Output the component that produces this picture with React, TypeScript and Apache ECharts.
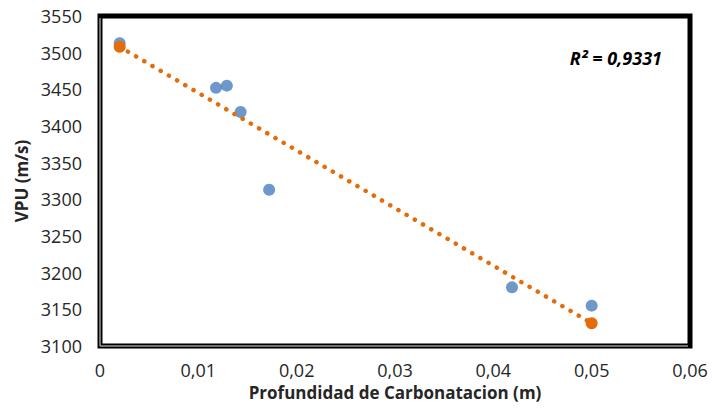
import React, { useEffect, useRef } from "react";
import * as echarts from "echarts";

const depthX: number[] = [0.002, 0.0118, 0.0129, 0.0143, 0.0172, 0.0419, 0.05];
const vpuY: number[] = [3513, 3452, 3455, 3419, 3313, 3180, 3155];
const trendX: number[] = [0.002, 0.05];
const trendY: number[] = [3508, 3131];
const r2Label = "R² = 0,9331";
const xTitle = "Profundidad de Carbonatacion (m)";
const yTitle = "VPU (m/s)";

const FONT = "'Open Sans', 'Liberation Sans', sans-serif";

export default function App() {
  const ref = useRef<HTMLDivElement>(null);
  useEffect(() => {
    if (!ref.current) return;
    const chart = echarts.init(ref.current, null, { renderer: "svg" });
    const L = 100, R = 690, T = 16, B = 346;
    chart.setOption({
      animation: false,
      backgroundColor: "#ffffff",
      grid: { left: L, right: 713 - R, top: T, bottom: 415 - B },
      xAxis: {
        type: "value",
        min: 0,
        max: 0.06,
        interval: 0.01,
        name: xTitle,
        nameLocation: "middle",
        nameGap: 30,
        nameTextStyle: { fontFamily: FONT, fontWeight: "bold", fontSize: 17, color: "#262626" },
        axisLine: { show: false },
        axisTick: { show: false },
        splitLine: { show: false },
        axisLabel: {
          fontFamily: FONT,
          fontSize: 18,
          color: "#262626",
          margin: 15,
          formatter: (v: number) => String(Math.round(v * 100) / 100).replace(".", ","),
        },
      },
      yAxis: {
        type: "value",
        min: 3100,
        max: 3550,
        interval: 50,
        name: yTitle,
        nameLocation: "middle",
        nameGap: 70,
        nameRotate: 90,
        nameTextStyle: { fontFamily: FONT, fontWeight: "bold", fontSize: 17, color: "#262626" },
        axisLine: { show: false },
        axisTick: { show: false },
        splitLine: { show: false },
        axisLabel: {
          fontFamily: FONT,
          fontSize: 18,
          color: "#262626",
          margin: 18,
          formatter: (v: number) => String(v),
        },
      },
      series: [
        {
          type: "scatter",
          data: depthX.map((x, i) => [x, vpuY[i]]),
          symbolSize: 12,
          itemStyle: { color: "#4A7EBB" },
          z: 2,
        },
        {
          type: "line",
          data: trendX.map((x, i) => [x, trendY[i]]),
          symbol: "circle",
          symbolSize: 12,
          showSymbol: true,
          itemStyle: { color: "#E46C0A" },
          lineStyle: { color: "#E46C0A", width: 4.5, type: [0.1, 9.4], cap: "round" },
          z: 3,
        },
      ],
      graphic: [
        {
          type: "rect",
          shape: { x: L, y: T, width: R - L, height: B - T },
          style: { fill: "none", stroke: "#000", lineWidth: 5 },
          z: 10,
        },
        {
          type: "line",
          shape: { x1: L, y1: T + 2, x2: L, y2: B },
          style: { stroke: "#9a9a9a", lineWidth: 1.5 },
          z: 11,
        },
        {
          type: "line",
          shape: { x1: L, y1: B, x2: R - 2, y2: B },
          style: { stroke: "#9a9a9a", lineWidth: 1.5 },
          z: 11,
        },
        {
          type: "text",
          x: 662,
          y: 58,
          style: {
            text: r2Label,
            fontFamily: FONT,
            fontSize: 18,
            fontWeight: "bold",
            fontStyle: "italic",
            fill: "#000",
            align: "right",
            verticalAlign: "middle",
          },
          z: 12,
        },
      ],
    });
    return () => chart.dispose();
  }, []);
  return (
    <div
      ref={ref}
      style={{ position: "fixed", left: 0, top: 0, width: 713, height: 415 }}
    />
  );
}
